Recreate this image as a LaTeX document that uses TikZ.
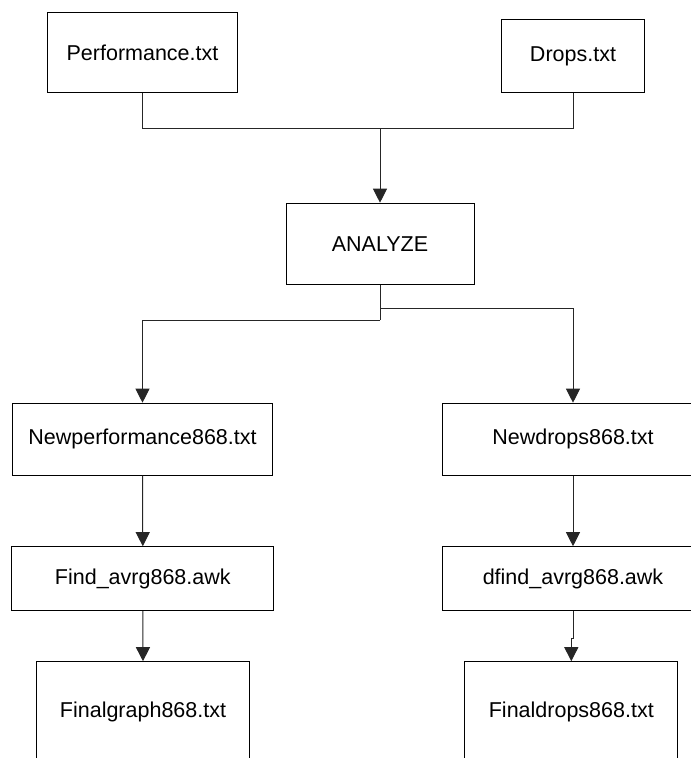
\documentclass[tikz,border=0pt]{standalone}
\usepackage{fontspec}
\setmainfont{Liberation Sans}
\usepackage{tikz}
\usetikzlibrary{arrows.meta}

\tikzset{
  filebox/.style={draw=black, line width=1pt, inner sep=0pt, fill=white,
    font=\fontsize{21.5}{25}\selectfont},
  flow/.style={line width=1pt, draw=black!85},
  flowarrow/.style={flow, -{Triangle[length=14pt,width=14pt]}}
}

\begin{document}
\begin{tikzpicture}[x=1pt,y=-1pt]
			\useasboundingbox (0,0) rectangle (691,758);
			\clip (0,0) rectangle (691,758);
			% input files
			\node[filebox, minimum width=190pt, minimum height=80pt] (perf) at (142.5,52.7) {Performance.txt};
			\node[filebox, minimum width=143pt, minimum height=73pt] (drops) at (573,56.3) {Drops.txt};
			\node[filebox, minimum width=188pt, minimum height=81pt] (analyze) at (380,243.7) {ANALYZE};
			% left column
			\node[filebox, minimum width=260pt, minimum height=72pt] (newperf) at (142.5,439.2) {Newperformance868.txt};
			\node[filebox, minimum width=262pt, minimum height=64pt] (findavg) at (142.8,578.7) {Find\_avrg868.awk};
			\node[filebox, minimum width=213pt, minimum height=100pt] (finalgraph) at (143,711.7) {Finalgraph868.txt};
			% right column
			\node[filebox, minimum width=261pt, minimum height=72pt] (newdrops) at (573,439.2) {Newdrops868.txt};
			\node[filebox, minimum width=262pt, minimum height=64pt] (dfindavg) at (573,578.7) {dfind\_avrg868.awk};
			\node[filebox, minimum width=213pt, minimum height=100pt] (finaldrops) at (571.3,711.7) {Finaldrops868.txt};
			% merge
			\coordinate (merge) at (380,128.7);
			\draw[flow] (perf.south) |- (merge);
			\draw[flow] (drops.south) |- (merge);
			\draw[flowarrow] (merge) -- (analyze.north);
			% split
			\coordinate (splitR) at (380,308.3);
			\coordinate (splitL) at (380,320);
			\draw[flow] (analyze.south) -- (splitL);
			\draw[flowarrow] (splitR) -| (newdrops.north);
			\draw[flowarrow] (splitL) -| (newperf.north);
			% columns
			\draw[flowarrow] (newperf.south) -- (findavg.north);
			\draw[flowarrow] (findavg.south) -- (finalgraph.north);
			\draw[flowarrow] (newdrops.south) -- (dfindavg.north);
			\coordinate (jog) at (573,638);
			\draw[flowarrow] (dfindavg.south) -- (jog) -| (finaldrops.north);
		\end{tikzpicture}
\end{document}
